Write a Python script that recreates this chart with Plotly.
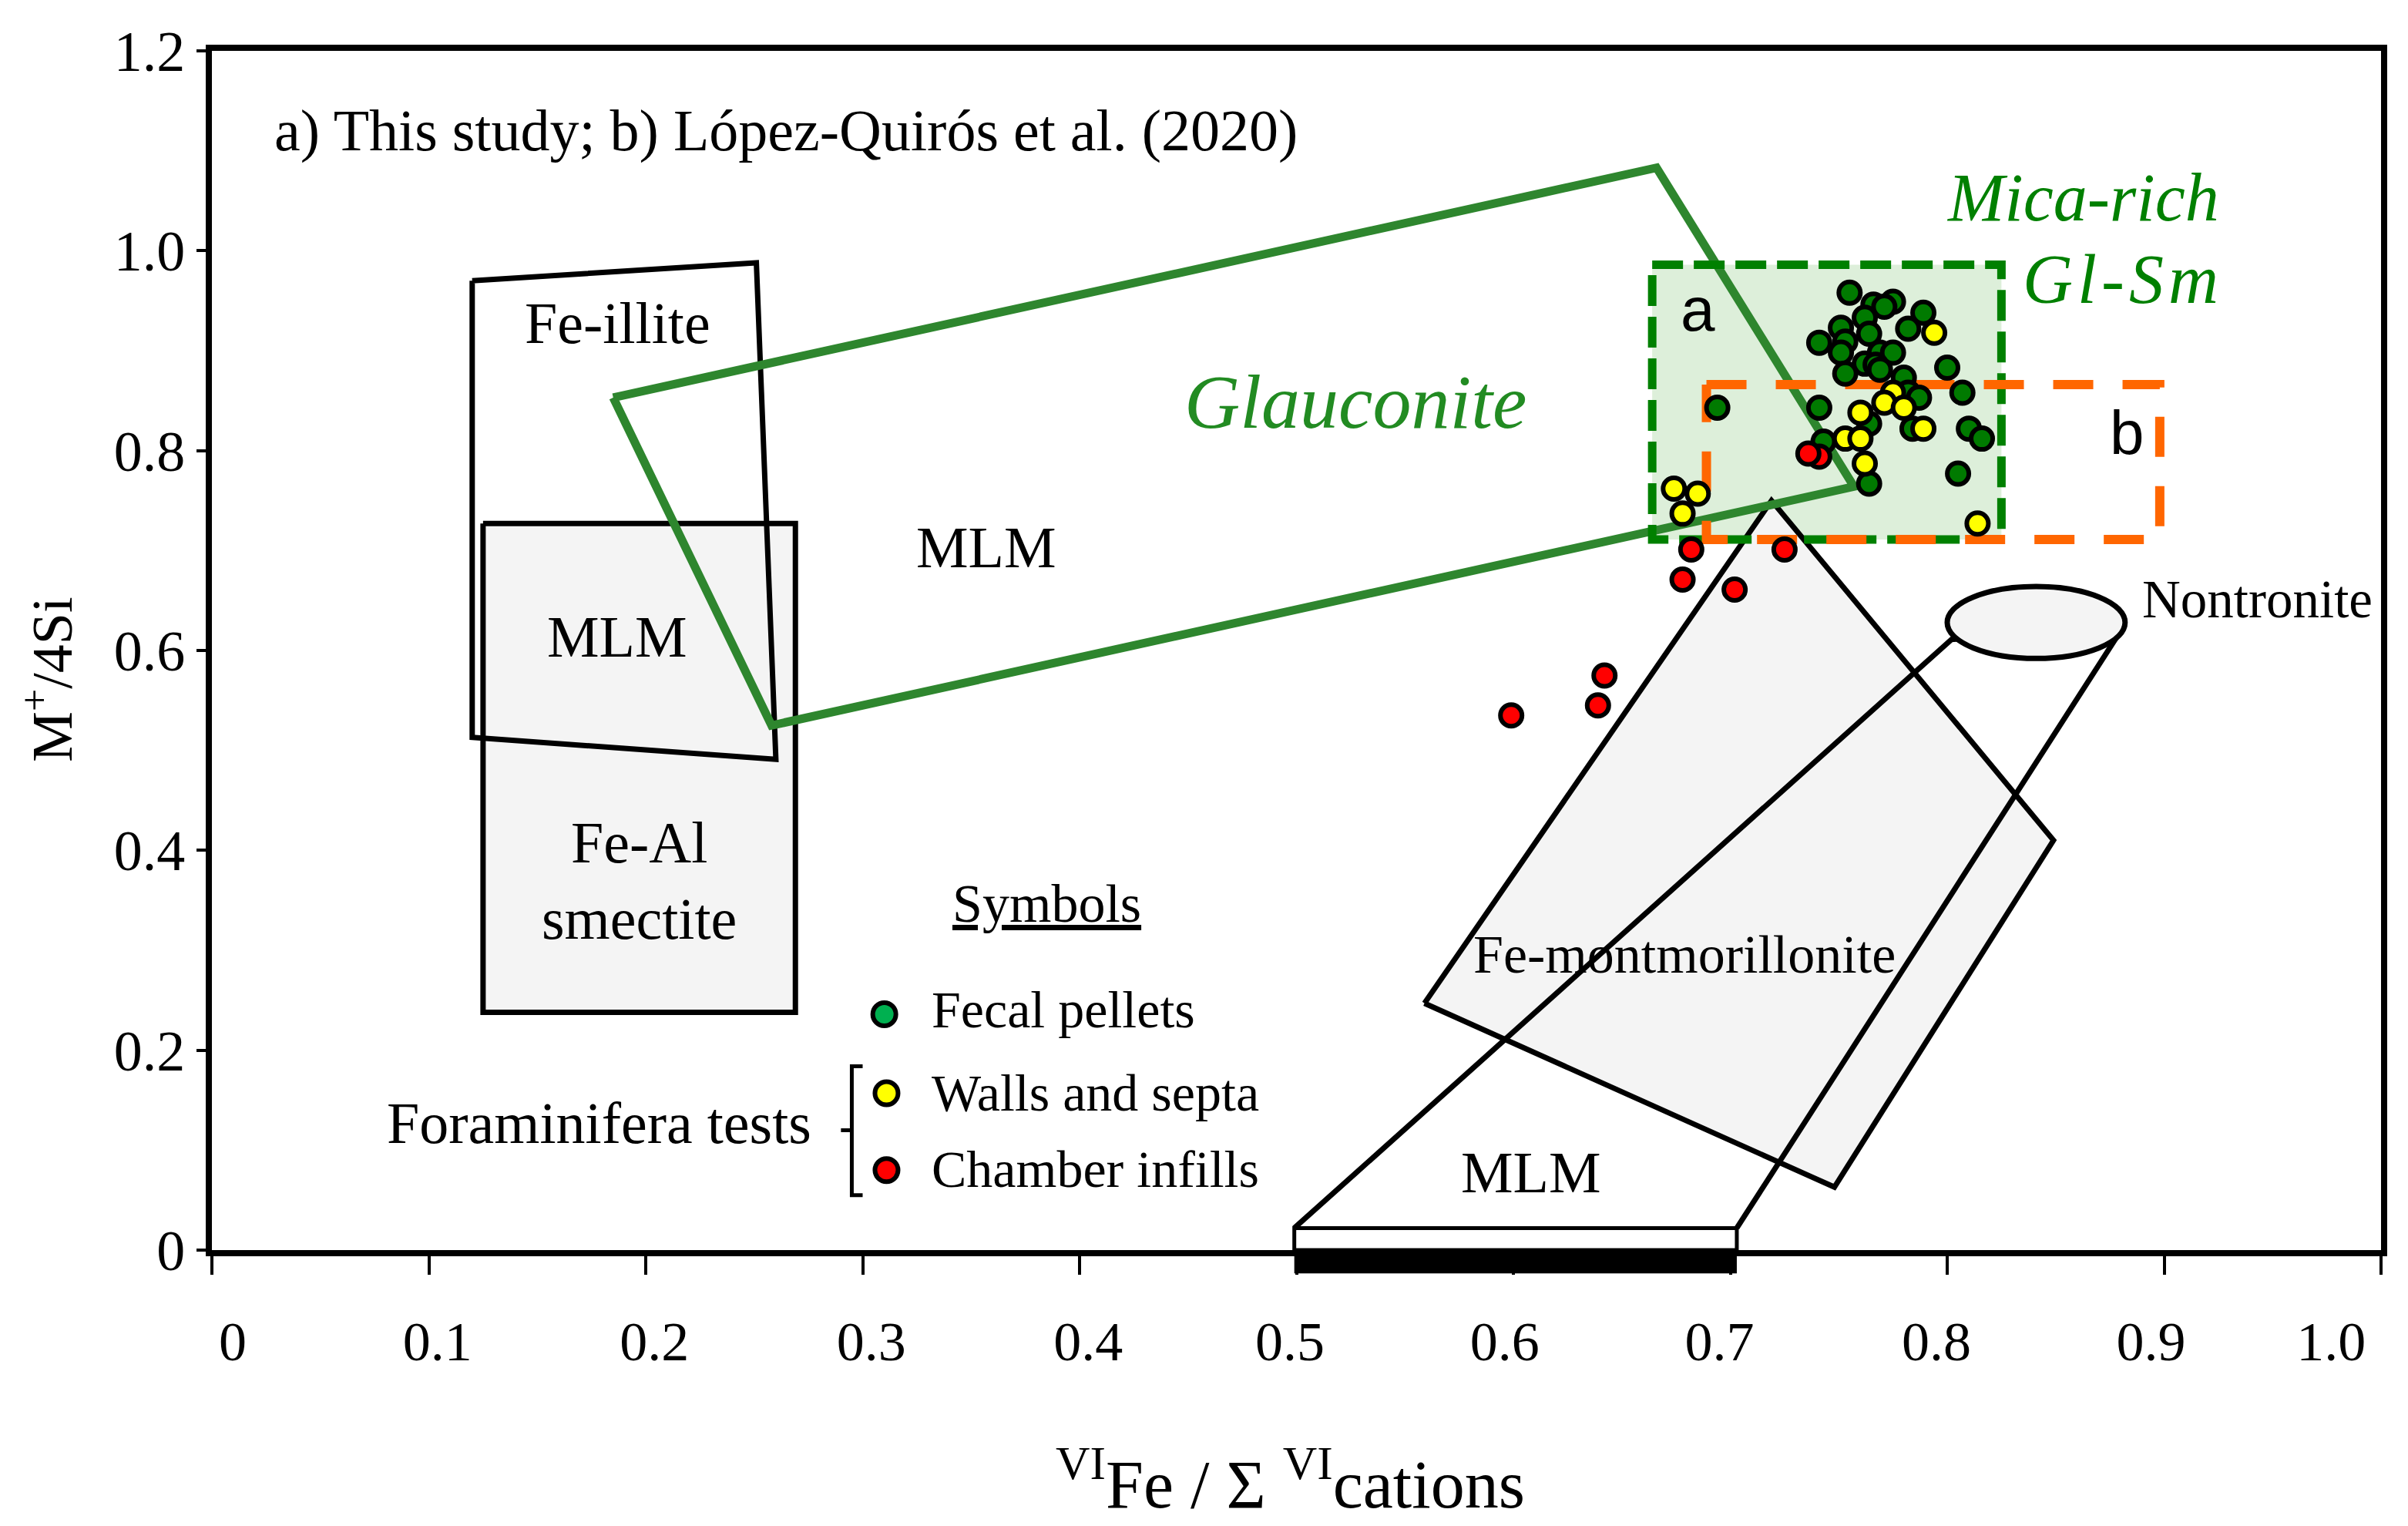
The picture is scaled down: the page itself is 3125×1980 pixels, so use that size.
import plotly.graph_objects as go

# ---------------- data ----------------
# Fecal pellets (green)
FECAL_X = [0.755, 0.766, 0.775, 0.771, 0.762, 0.789, 0.782, 0.751, 0.764, 0.741,
           0.753, 0.751, 0.769, 0.775, 0.762, 0.767, 0.769, 0.753, 0.800, 0.780,
           0.807, 0.782, 0.787, 0.694, 0.741, 0.764, 0.784, 0.810, 0.816, 0.743,
           0.805, 0.764]
FECAL_Y = [0.958, 0.946, 0.949, 0.944, 0.933, 0.938, 0.922, 0.923, 0.917, 0.908,
           0.909, 0.898, 0.898, 0.898, 0.887, 0.886, 0.881, 0.877, 0.883, 0.873,
           0.858, 0.858, 0.853, 0.843, 0.843, 0.827, 0.822, 0.822, 0.812, 0.809,
           0.777, 0.767]
# Foraminifera walls and septa (yellow)
WALLS_X = [0.794, 0.775, 0.771, 0.780, 0.760, 0.789, 0.753, 0.760, 0.762, 0.674,
           0.685, 0.678, 0.814]
WALLS_Y = [0.918, 0.858, 0.848, 0.843, 0.838, 0.822, 0.812, 0.812, 0.787, 0.762,
           0.757, 0.737, 0.727]
# Foraminifera chamber infills (red)
INFILL_X = [0.741, 0.736, 0.682, 0.725, 0.678, 0.702, 0.642, 0.639, 0.599]
INFILL_Y = [0.794, 0.797, 0.701, 0.701, 0.671, 0.661, 0.575, 0.545, 0.535]

# Compositional fields (polygon vertices)
FE_ILLITE_X = [0.120, 0.251, 0.260, 0.120]
FE_ILLITE_Y = [0.970, 0.988, 0.491, 0.513]
FEAL_SMECTITE_X = [0.125, 0.269, 0.269, 0.125]
FEAL_SMECTITE_Y = [0.727, 0.727, 0.238, 0.238]
GLAUCONITE_X = [0.185, 0.666, 0.757, 0.258]
GLAUCONITE_Y = [0.853, 1.083, 0.764, 0.525]
MICA_BOX_X = [0.664, 0.825, 0.825, 0.664]
MICA_BOX_Y = [0.986, 0.986, 0.711, 0.711]
LQ_BOX_X = [0.689, 0.898, 0.898, 0.689]
LQ_BOX_Y = [0.866, 0.866, 0.711, 0.711]
FE_MONT_X = [0.559, 0.719, 0.849, 0.748]
FE_MONT_Y = [0.247, 0.750, 0.410, 0.063]
CONE_X = [0.499, 0.802, 0.881, 0.703]
CONE_Y = [0.022, 0.611, 0.623, 0.022]
NONTRONITE_X = [0.800, 0.882]
NONTRONITE_Y = [0.592, 0.664]
MLM_BASE_X = [0.499, 0.703]
MLM_BASE_Y = [0.0, 0.022]

X_TICKS = [0, 0.1, 0.2, 0.3, 0.4, 0.5, 0.6, 0.7, 0.8, 0.9, 1.0]
X_TICK_TEXT = ["0", "0.1", "0.2", "0.3", "0.4", "0.5", "0.6", "0.7", "0.8", "0.9", "1.0"]
# where the reference prints each x label (slightly off its tick, as in the original)
X_LABEL_POS = [0.0096, 0.104, 0.204, 0.304, 0.404, 0.497, 0.596, 0.695, 0.795, 0.894, 0.977]
Y_TICKS = [0, 0.2, 0.4, 0.6, 0.8, 1.0, 1.2]
Y_TICK_TEXT = ["0", "0.2", "0.4", "0.6", "0.8", "1.0", "1.2"]

LEGEND_LABELS = ["Fecal pellets", "Walls and septa", "Chamber infills"]

# ---------------- style ----------------
SERIF = "Liberation Serif"
SANS = "Liberation Sans"
GREEN_PT = "#007A00"
YELLOW_PT = "#FFFF00"
RED_PT = "#FF0000"
GRAY_FILL = "#F4F4F4"
MICA_FILL = "#DDEFDA"
GLAUC_LINE = "#2E862E"
MSIZE = 28
MLINE = 6
OUTLINE = 7

fig = go.Figure()


def closed(xs, ys):
    return list(xs) + [xs[0]], list(ys) + [ys[0]]


def poly(xs, ys, line_color="black", width=OUTLINE, fill=None, dash=None):
    cx, cy = closed(xs, ys)
    kw = dict(x=cx, y=cy, mode="lines", hoverinfo="skip", showlegend=False,
              line=dict(color=line_color, width=width))
    if dash:
        kw["line"]["dash"] = dash
    if fill:
        kw["fill"] = "toself"
        kw["fillcolor"] = fill
    fig.add_trace(go.Scatter(**kw))


# fields
poly(FEAL_SMECTITE_X, FEAL_SMECTITE_Y, fill=GRAY_FILL)
poly(FE_ILLITE_X, FE_ILLITE_Y)
poly(MICA_BOX_X, MICA_BOX_Y, line_color="rgba(0,0,0,0)", width=0, fill=MICA_FILL)
poly(FE_MONT_X, FE_MONT_Y, fill=GRAY_FILL)
fig.add_trace(go.Scatter(x=CONE_X, y=CONE_Y, mode="lines", hoverinfo="skip",
                         showlegend=False, line=dict(color="black", width=OUTLINE)))
poly([MLM_BASE_X[0], MLM_BASE_X[1], MLM_BASE_X[1], MLM_BASE_X[0]],
     [MLM_BASE_Y[0], MLM_BASE_Y[0], MLM_BASE_Y[1], MLM_BASE_Y[1]], width=5, fill="white")
poly(GLAUCONITE_X, GLAUCONITE_Y, line_color=GLAUC_LINE, width=11)
poly(MICA_BOX_X, MICA_BOX_Y, line_color="#008000", width=11, dash="40px,14px")
poly(LQ_BOX_X, LQ_BOX_Y, line_color="#FF6600", width=12, dash="52px,38px")

# data points
for xs, ys, col in [(FECAL_X, FECAL_Y, GREEN_PT), (WALLS_X, WALLS_Y, YELLOW_PT),
                    (INFILL_X, INFILL_Y, RED_PT)]:
    fig.add_trace(go.Scatter(x=xs, y=ys, mode="markers", showlegend=False,
                             marker=dict(size=MSIZE, color=col,
                                         line=dict(color="black", width=MLINE))))

# custom symbol key
LEG_X = [0.310, 0.311, 0.311]
LEG_Y = [0.236, 0.157, 0.080]
fig.add_trace(go.Scatter(x=LEG_X, y=LEG_Y, mode="markers", showlegend=False,
                         hoverinfo="skip",
                         marker=dict(size=MSIZE + 2, color=["#00B050", YELLOW_PT, RED_PT],
                                     line=dict(color="black", width=MLINE))))

# invisible anchor so the label axis is drawn
fig.add_trace(go.Scatter(x=[X_LABEL_POS[0]], y=[0], xaxis="x2", mode="markers",
                         marker=dict(opacity=0), hoverinfo="skip", showlegend=False))

shapes = [
    dict(type="circle", xref="x", yref="y", x0=NONTRONITE_X[0], x1=NONTRONITE_X[1],
         y0=NONTRONITE_Y[0], y1=NONTRONITE_Y[1], fillcolor=GRAY_FILL,
         line=dict(color="black", width=OUTLINE), layer="above"),
    dict(type="rect", xref="x", yref="paper", x0=MLM_BASE_X[0], x1=MLM_BASE_X[1],
         y0=-0.0195, y1=0.0, fillcolor="black", line=dict(width=0), layer="above"),
    dict(type="path", xref="x", yref="y",
         path="M 0.300,0.184 L 0.295,0.184 L 0.295,0.055 L 0.300,0.055 "
              "M 0.295,0.120 L 0.290,0.120",
         line=dict(color="black", width=5), layer="above"),
]


def ann(text, x, y, size=76, color="black", family=SERIF, xanchor="center",
        yanchor="middle", align="center", style="normal", **kw):
    d = dict(text=text, x=x, y=y, xref="x", yref="y", showarrow=False,
             font=dict(family=family, size=size, color=color, style=style),
             xanchor=xanchor, yanchor=yanchor, align=align)
    d.update(kw)
    return d


annotations = [
    ann("a) This study; b) López-Quirós et al. (2020)", 0.028, 1.120, xanchor="left"),
    ann("Fe-illite", 0.187, 0.928),
    ann("MLM", 0.187, 0.614),
    ann("Fe-Al<br>smectite", 0.197, 0.370),
    ann("MLM", 0.357, 0.703),
    ann("Glauconite", 0.527, 0.849, size=100, color="#228B22", style="italic"),
    ann("Mica-rich", 0.926, 1.053, size=88, color="#008000", xanchor="right",
        style="italic"),
    ann('<span style="letter-spacing:6px">Gl-Sm</span>', 0.928, 0.971, size=90,
        color="#008000", xanchor="right", style="italic"),
    ann("a", 0.685, 0.941, size=80, family=SANS),
    ann("b", 0.883, 0.818, size=80, family=SANS),
    ann("Nontronite", 0.889, 0.651, size=69, xanchor="left"),
    ann("Fe-montmorillonite", 0.679, 0.296, size=70),
    ann("MLM", 0.608, 0.078),
    ann("<u>Symbols</u>", 0.385, 0.347, size=70),
    ann(LEGEND_LABELS[0], 0.331, 0.241, size=68, xanchor="left"),
    ann(LEGEND_LABELS[1], 0.331, 0.157, size=68, xanchor="left"),
    ann(LEGEND_LABELS[2], 0.331, 0.081, size=68, xanchor="left"),
    ann("Foraminifera tests", 0.277, 0.127, size=76, xanchor="right"),
    dict(text="M<sup>+</sup>/4Si", x=-0.0755, y=0.476, xref="paper", yref="paper",
         showarrow=False, textangle=-90, font=dict(family=SERIF, size=74, color="black"),
         xanchor="center", yanchor="middle"),
    dict(text="<sup>VI</sup>Fe / Σ <sup>VI</sup>cations", x=0.497, y=-0.191,
         xref="paper", yref="paper", showarrow=False,
         font=dict(family=SERIF, size=88, color="black"),
         xanchor="center", yanchor="middle"),
]

fig.update_layout(
    width=3125, height=1980,
    margin=dict(l=267, r=43, t=58, b=366),
    paper_bgcolor="white", plot_bgcolor="white",
    shapes=shapes, annotations=annotations,
    showlegend=False,
    xaxis=dict(range=[0, 1.0], tickvals=X_TICKS, showticklabels=False,
               showgrid=False, zeroline=False, showline=True, linecolor="black",
               linewidth=8, mirror=True, ticks="outside", ticklen=24, tickwidth=4,
               tickcolor="black"),
    xaxis2=dict(range=[0, 1.0], overlaying="x", anchor="y", side="bottom",
                tickvals=X_LABEL_POS, ticktext=X_TICK_TEXT, ticks="",
                showgrid=False, zeroline=False, showline=False,
                ticklabelstandoff=70, ticklabeloverflow="allow",
                tickfont=dict(family=SERIF, size=72, color="black")),
    yaxis=dict(range=[0, 1.2], tickvals=Y_TICKS, ticktext=Y_TICK_TEXT,
               showgrid=False, zeroline=False, showline=True, linecolor="black",
               linewidth=8, mirror=True, ticks="outside", ticklen=12, tickwidth=4,
               tickcolor="black", ticklabelstandoff=0,
               tickfont=dict(family=SERIF, size=74, color="black")),
)

fig.write_html("out.html")
